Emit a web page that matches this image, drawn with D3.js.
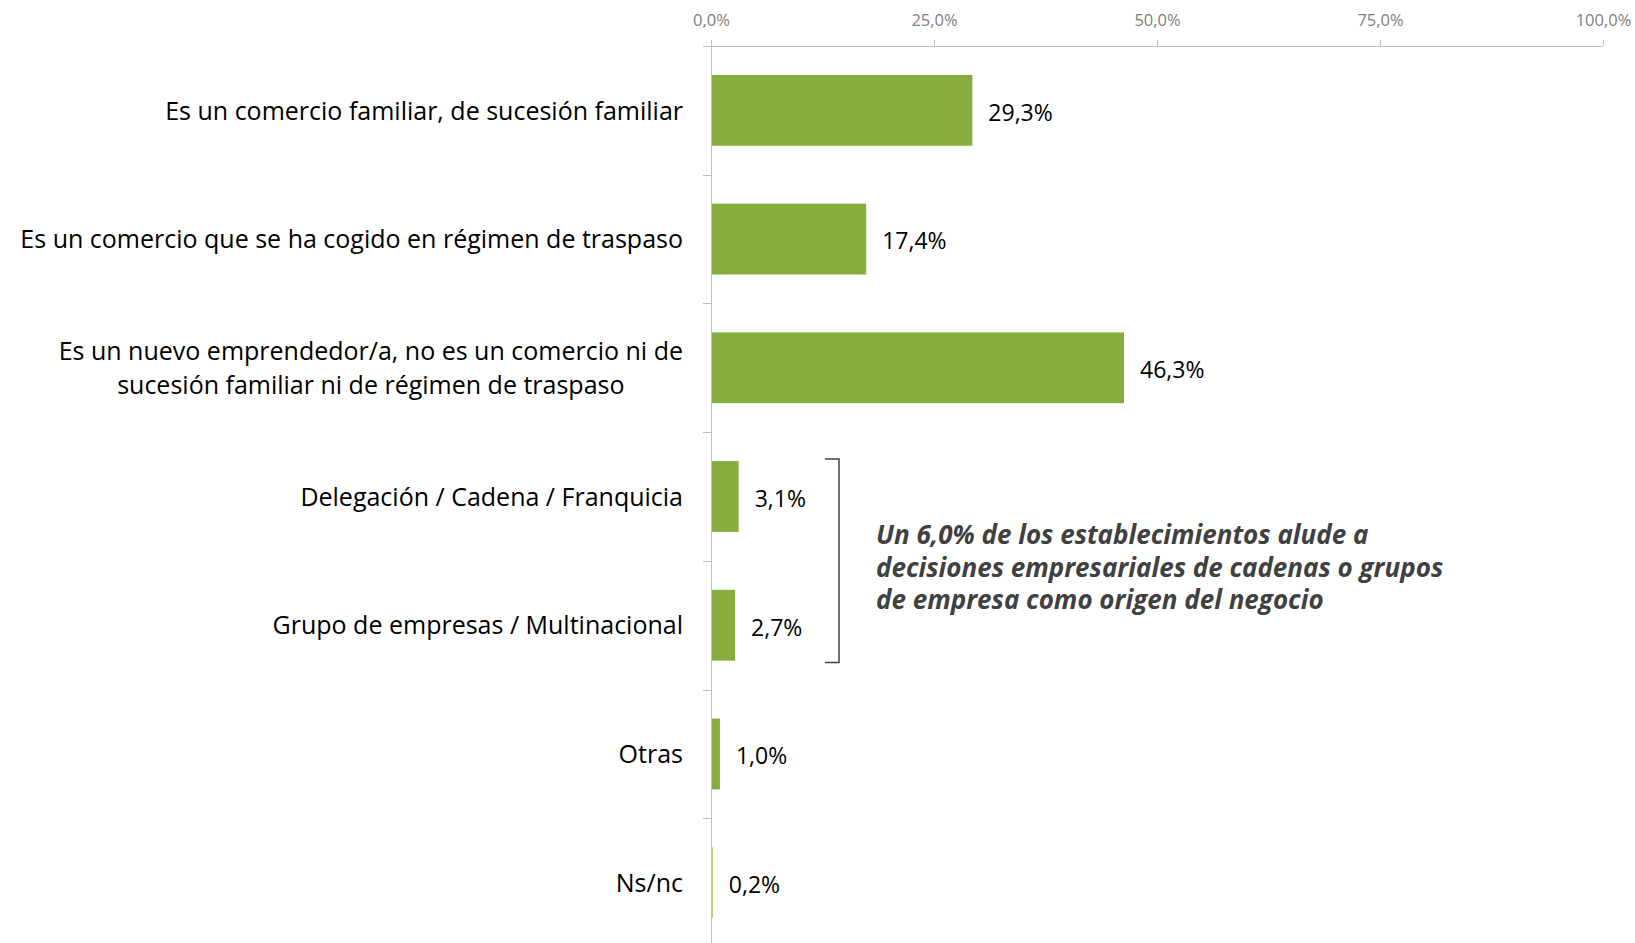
<!DOCTYPE html>
<html>
<head>
<meta charset="utf-8">
<script src="https://cdn.jsdelivr.net/npm/d3@7"></script>
<style>
  body { margin: 0; background: #fff; }
  svg { display: block; }
</style>
</head>
<body>
<svg id="chart" width="1635" height="943"></svg>
<script>
// categories (multi-line labels split by \n)
const categories = [
    'Es un comercio familiar, de sucesión familiar',
    'Es un comercio que se ha cogido en régimen de traspaso',
    'Es un nuevo emprendedor/a, no es un comercio ni de\nsucesión familiar ni de régimen de traspaso',
    'Delegación / Cadena / Franquicia',
    'Grupo de empresas / Multinacional',
    'Otras',
    'Ns/nc'
];
const values = [29.3, 17.4, 46.3, 3.1, 2.7, 1.0, 0.2];
const xTicks = [0, 25, 50, 75, 100];
const noteLines = [
    'Un 6,0% de los establecimientos alude a',
    'decisiones empresariales de cadenas o grupos',
    'de empresa como origen del negocio'
];
const bracketCats = [categories[3], categories[4]];

const fmt = v => v.toFixed(1).replace('.', ',') + '%';

let svg = d3.select('#chart');
const plotLeft = 711, plotRight = 1603, plotTop = 46, plotBottom = 947;

let x = d3.scaleLinear().domain([0, 100]).range([plotLeft, plotRight]);
let y = d3.scaleBand().domain(categories).range([plotTop, plotBottom]).paddingInner(0.45).paddingOuter(0.225);

// bars
svg.selectAll('rect.bar')
    .data(values)
    .enter()
    .append('rect')
    .attr('class', 'bar')
    .attr('x', x(0))
    .attr('y', (d, i) => y(categories[i]))
    .attr('width', d => x(d) - x(0))
    .attr('height', y.bandwidth())
    .attr('fill', (d, i) => d < 0.5 ? '#9bc64a' : '#87ad3e');

// top axis
let xAxis = svg.append('g')
    .attr('transform', `translate(0,${plotTop})`)
    .call(d3.axisTop(x).tickValues(xTicks).tickFormat(fmt).tickSize(6).tickSizeOuter(0).tickPadding(14));
xAxis.select('.domain').attr('stroke', '#bfbfbf').attr('d', `M${plotLeft - 8},0.5H${plotRight}`);
xAxis.selectAll('.tick line').attr('stroke', '#bfbfbf');
xAxis.selectAll('.tick text')
    .attr('fill', '#808080')
    .style('font-family', '"Open Sans", sans-serif')
    .style('font-size', '16.5px');

// left axis: line plus separators between categories
let yAxisG = svg.append('g');
yAxisG.append('line')
    .attr('x1', plotLeft + 0.5).attr('x2', plotLeft + 0.5)
    .attr('y1', plotTop).attr('y2', 943)
    .attr('stroke', '#bfbfbf');
const step = y.step();
d3.range(1, categories.length).forEach(i => {
    const yy = Math.round(plotTop + i * step) + 0.5;
    yAxisG.append('line')
        .attr('x1', plotLeft - 8).attr('x2', plotLeft)
        .attr('y1', yy).attr('y2', yy)
        .attr('stroke', '#bfbfbf');
});

// category labels
const labelRight = 683;
categories.forEach((c, i) => {
    const lines = c.split('\n');
    const cy = y(c) + y.bandwidth() / 2;
    const lh = 34.5;
    let t = svg.append('text')
        .attr('fill', '#000')
        .style('font-family', '"Open Sans", sans-serif')
        .style('font-size', '25px');
    const spans = lines.map((l, j) => t.append('tspan')
        .attr('y', cy + (j - (lines.length - 1) / 2) * lh)
        .attr('dy', '0.37em')
        .text(l));
    const widths = spans.map(s => s.node().getComputedTextLength());
    const maxW = d3.max(widths);
    const center = labelRight - maxW / 2;
    spans.forEach(s => s.attr('x', center).attr('text-anchor', 'middle'));
});

// value labels
svg.selectAll('text.val')
    .data(values)
    .enter()
    .append('text')
    .attr('class', 'val')
    .attr('x', d => x(d) + 16)
    .attr('y', (d, i) => y(categories[i]) + y.bandwidth() / 2)
    .attr('dy', '0.45em')
    .attr('fill', '#000')
    .style('font-family', '"Open Sans", sans-serif')
    .style('font-size', '23px')
    .text(d => fmt(d));

// bracket
const by1 = y(bracketCats[0]) - 2, by2 = y(bracketCats[1]) + y.bandwidth() + 2;
svg.append('path')
    .attr('d', `M825,${by1}H839V${by2}H825`)
    .attr('fill', 'none')
    .attr('stroke', '#404040')
    .attr('stroke-width', 1.5);

// note
let note = svg.append('text')
    .attr('fill', '#404040')
    .style('font-family', '"Open Sans", sans-serif')
    .style('font-size', '26px')
    .style('font-weight', 'bold')
    .style('font-style', 'italic');
noteLines.forEach((l, j) => {
    note.append('tspan').attr('x', 876).attr('y', 544 + j * 32.5).text(l);
});
</script>
</body>
</html>
